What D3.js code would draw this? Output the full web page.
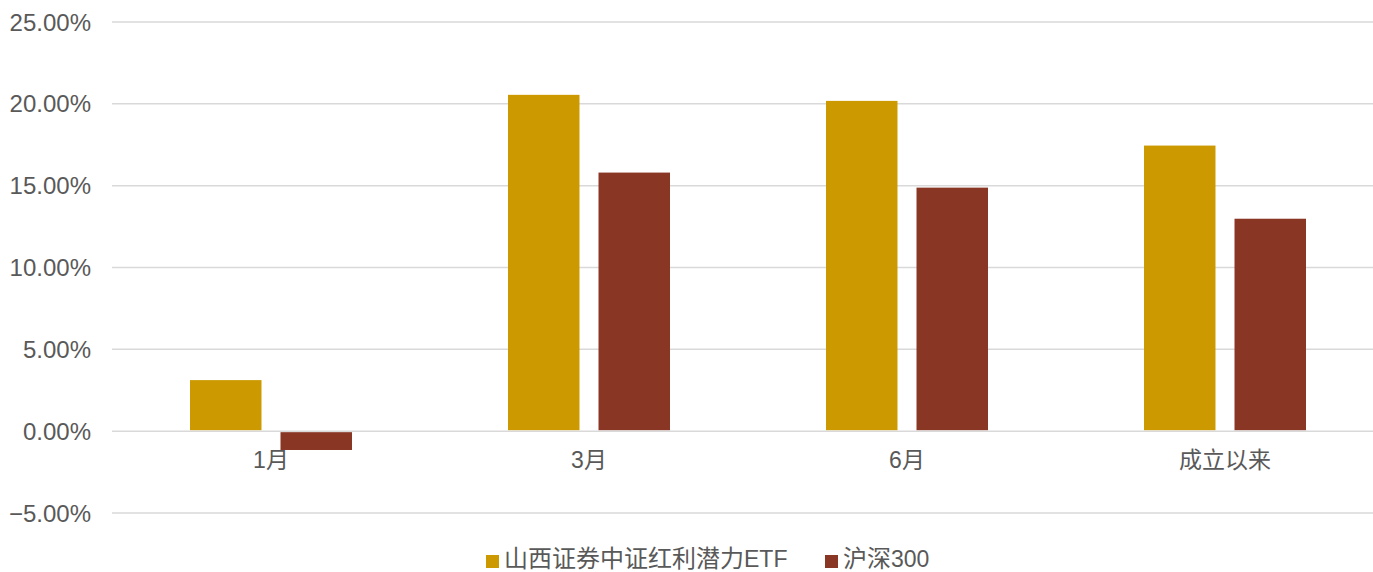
<!DOCTYPE html>
<html>
<head>
<meta charset="utf-8">
<script src="https://cdn.jsdelivr.net/npm/d3@7"></script>
<style>
  body { margin: 0; background: #fff; }
  text { font-family: "Liberation Sans", Arial, "Noto Sans CJK SC", sans-serif; fill: #595959; }
</style>
</head>
<body>
<div id="chart"></div>
<script>
// Chart values
const categories = ["1月", "3月", "6月", "成立以来"];
const seriesNames = ["山西证券中证红利潜力ETF", "沪深300"];
const etfValues = [3.12, 20.55, 20.18, 17.45];
const hs300Values = [-1.15, 15.8, 14.88, 12.98];
const yTicks = [-5, 0, 5, 10, 15, 20, 25];
const colors = ["#CC9A00", "#8A3625"];

const W = 1373, H = 572;
const margin = {top: 22, right: -11, bottom: 59, left: 112};
const width = W - margin.left - margin.right;
const height = H - margin.top - margin.bottom;

const svg = d3.select("#chart").append("svg")
    .attr("width", W)
    .attr("height", H);

const g = svg.append("g")
    .attr("transform", `translate(${margin.left},${margin.top})`);

const x0 = d3.scaleBand()
    .domain(categories)
    .range([0, width])
    .paddingInner(0)
    .paddingOuter(0);

const x1 = d3.scaleBand()
    .domain(seriesNames)
    .range([78, x0.bandwidth() - 78])
    .paddingInner(0.21);

const y = d3.scaleLinear()
    .domain([-5, 25])
    .range([height, 0]);

// gridlines
g.append("g")
    .selectAll("line")
    .data(yTicks)
    .enter().append("line")
    .attr("x1", 0)
    .attr("x2", width)
    .attr("y1", d => y(d))
    .attr("y2", d => y(d))
    .attr("stroke", "#D9D9D9")
    .attr("stroke-width", 1.5);

// y labels
g.append("g")
    .selectAll("text")
    .data(yTicks)
    .enter().append("text")
    .attr("x", -21)
    .attr("y", d => y(d))
    .attr("dy", "0.36em")
    .attr("text-anchor", "end")
    .style("font-size", "24px")
    .text(d => d3.format(".2f")(d) + "%");

// bars
const data = categories.map((c, i) => ({cat: c, vals: [etfValues[i], hs300Values[i]]}));

const groups = g.selectAll(".grp")
    .data(data)
    .enter().append("g")
    .attr("class", "grp")
    .attr("transform", d => `translate(${x0(d.cat)},0)`);

groups.selectAll("rect")
    .data(d => d.vals.map((v, j) => ({name: seriesNames[j], v: v, j: j})))
    .enter().append("rect")
    .attr("x", d => x1(d.name))
    .attr("width", x1.bandwidth())
    .attr("y", d => d.v >= 0 ? y(d.v) : y(0) + 1)
    .attr("height", d => d.v >= 0 ? y(0) - y(d.v) - 1 : y(d.v) - y(0) - 1)
    .attr("fill", d => colors[d.j]);

// category labels
g.append("g")
    .selectAll("text")
    .data(categories)
    .enter().append("text")
    .attr("x", d => x0(d) + x0.bandwidth() / 2)
    .attr("y", y(0) + 37)
    .attr("text-anchor", "middle")
    .style("font-size", "23px")
    .text(d => d);

// legend
const legendItems = [
    {cjk: "山西证券中证红利潜力", latin: "ETF", x: 486},
    {cjk: "沪深", latin: "300", x: 825}
];
const legend = svg.append("g");
legendItems.forEach((d, i) => {
    legend.append("rect")
        .attr("x", d.x)
        .attr("y", 555)
        .attr("width", 13)
        .attr("height", 13)
        .attr("fill", colors[i]);
    const t = legend.append("text")
        .attr("x", d.x + 18)
        .attr("y", 559)
        .attr("dy", "0.36em")
        .style("font-size", "23px");
    t.append("tspan").style("font-size", "24px").text(d.cjk);
    t.append("tspan").text(d.latin);
});
</script>
</body>
</html>
